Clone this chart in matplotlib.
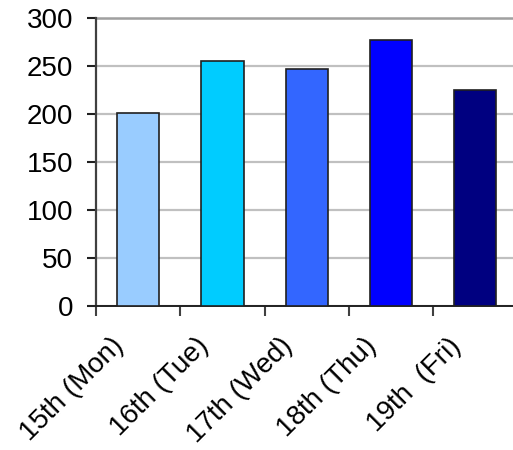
import matplotlib
matplotlib.use("Agg")
import matplotlib.pyplot as plt
from matplotlib.transforms import ScaledTranslation

days = ["15th (Mon)", "16th (Tue)", "17th (Wed)", "18th (Thu)", "19th  (Fri)"]
counts = [201, 255, 247, 277, 225]
bar_colors = ["#99CCFF", "#00CCFF", "#3366FF", "#0000FF", "#000080"]
y_ticks = [0, 50, 100, 150, 200, 250, 300]

plt.rcParams["font.family"] = ["Liberation Sans", "DejaVu Sans"]

fig = plt.figure(figsize=(5.13, 4.5), dpi=100)
ax = fig.add_axes([96 / 513, 144 / 450, 421.5 / 513, 288 / 450])

x = list(range(len(days)))
ax.bar(x, counts, width=0.5, color=bar_colors, edgecolor="#202020",
       linewidth=1.2, zorder=3)

ax.set_xlim(-0.5, len(days) - 0.5)
ax.set_ylim(0, 300)
ax.set_yticks(y_ticks)
ax.yaxis.grid(True, color="#C0C0C0", linewidth=1.6, zorder=0)
ax.set_axisbelow(True)

# category boundaries carry the tick marks; labels sit at the centres
ax.set_xticks([i - 0.5 for i in range(len(days) + 1)])
ax.set_xticklabels([])
ax.set_xticks(x, minor=True)
ax.set_xticklabels(days, minor=True, rotation=45, ha="right", va="top",
                   fontsize=20)
ax.tick_params(axis="x", which="minor", length=0, pad=19.5)
ax.tick_params(axis="x", which="major", length=7.5, width=1.5,
               color="#404040", direction="out")
ax.tick_params(axis="y", length=6.5, width=1.5, color="#202020",
               labelsize=20, pad=10)

shift = ScaledTranslation(-9 / 100, 0, fig.dpi_scale_trans)
for lbl in ax.get_xticklabels(minor=True):
    lbl.set_transform(lbl.get_transform() + shift)

for side in ("top", "right"):
    ax.spines[side].set_visible(False)
ax.spines["left"].set_color("#404040")
ax.spines["left"].set_linewidth(1.6)
ax.spines["bottom"].set_color("#202020")
ax.spines["bottom"].set_linewidth(1.4)

# top gridline a shade darker
ax.axhline(300, color="#A0A0A0", linewidth=1.8, zorder=1, clip_on=False)

fig.savefig("out.png", dpi=100)
